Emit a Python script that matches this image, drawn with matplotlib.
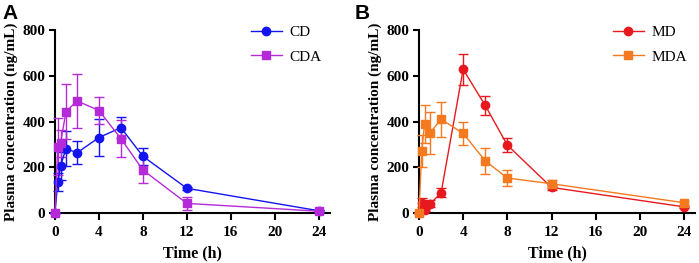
import matplotlib.pyplot as plt
from matplotlib.lines import Line2D

time_h = [0, 0.25, 0.5, 1, 2, 4, 6, 8, 12, 24]

cd = [0, 137, 205, 282, 263, 330, 373, 248, 108, 10]
cd_err = [0, 40, 60, 78, 50, 80, 45, 37, 6, 5]
cda = [0, 290, 305, 443, 490, 448, 325, 188, 42, 8]
cda_err = [0, 125, 60, 120, 117, 60, 80, 55, 30, 5]

md = [0, 45, 12, 40, 88, 628, 470, 297, 112, 27]
md_err = [0, 20, 5, 15, 20, 68, 40, 30, 10, 5]
mda = [0, 273, 388, 350, 410, 348, 228, 153, 128, 45]
mda_err = [0, 70, 82, 90, 77, 50, 57, 35, 18, 8]

x_ticks = [0, 4, 8, 12, 16, 20, 24]
y_ticks = [0, 200, 400, 600, 800]

serif = "Liberation Serif"


def draw_series(ax, y, err, color, marker):
    ax.errorbar(time_h, y, yerr=err, color=color, marker=marker, markersize=6,
                linewidth=1.0, elinewidth=1.0, capsize=3.5, capthick=1.0,
                clip_on=False, zorder=3)
    # legend handle without the error bar
    return Line2D([], [], color=color, marker=marker, markersize=6, linewidth=1.0)


def style_axis(ax, handles, labels):
    ax.set_xlim(0, 25)
    ax.set_ylim(0, 800)
    ax.set_xticks(x_ticks)
    ax.set_yticks(y_ticks)
    for side in ["top", "right"]:
        ax.spines[side].set_visible(False)
    for side in ["left", "bottom"]:
        ax.spines[side].set_linewidth(1.5)
    ax.tick_params(axis="x", width=1.5, length=5, direction="out", pad=4)
    ax.tick_params(axis="y", width=1.5, length=4, direction="out", pad=3)
    for lab in ax.get_xticklabels() + ax.get_yticklabels():
        lab.set_fontfamily(serif)
        lab.set_fontweight("bold")
        lab.set_fontsize(11)
    ax.set_xlabel("Time (h)", fontfamily=serif, fontweight="bold", fontsize=11.5, labelpad=5)
    ax.set_ylabel("Plasma concentration (ng/mL)", fontfamily=serif, fontweight="bold",
                  fontsize=11, labelpad=3)
    ax.legend(handles, labels, loc="upper right", bbox_to_anchor=(1.02, 1.1), frameon=False,
              prop={"family": serif, "size": 11}, handlelength=2.0,
              handletextpad=0.5, labelspacing=0.7)


fig = plt.figure(figsize=(6.99, 2.63), dpi=100)
ax1 = fig.add_axes([0.0787, 0.19, 0.393, 0.696])
ax2 = fig.add_axes([0.5994, 0.19, 0.395, 0.696])

h1 = draw_series(ax1, cd, cd_err, "#1414f0", "o")
h2 = draw_series(ax1, cda, cda_err, "#b42ad8", "s")
style_axis(ax1, [h1, h2], ["CD", "CDA"])

h3 = draw_series(ax2, md, md_err, "#e8191e", "o")
h4 = draw_series(ax2, mda, mda_err, "#f4791f", "s")
style_axis(ax2, [h3, h4], ["MD", "MDA"])

fig.text(0.004, 0.985, "A", fontfamily="Liberation Sans", fontweight="bold", fontsize=15, va="top")
fig.text(0.508, 0.985, "B", fontfamily="Liberation Sans", fontweight="bold", fontsize=15, va="top")

fig.savefig("out.png", dpi=100)
